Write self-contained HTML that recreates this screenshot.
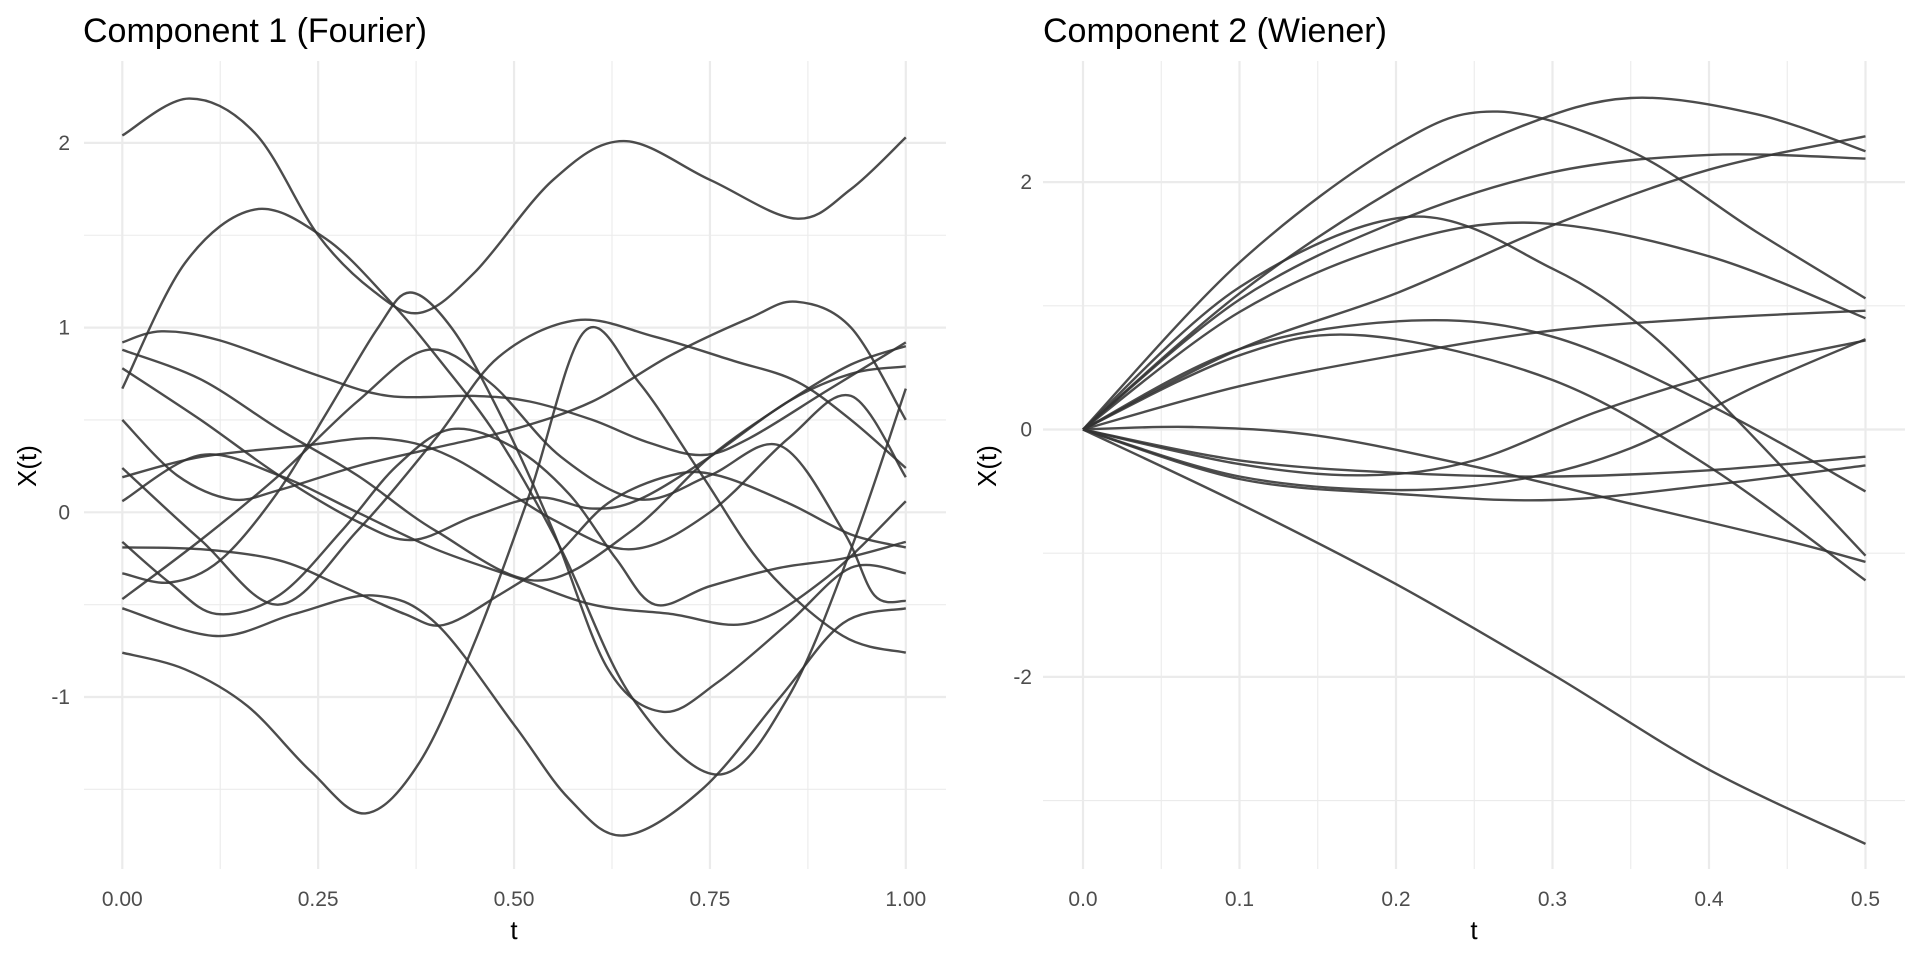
<!DOCTYPE html>
<html><head><meta charset="utf-8"><style>
html,body{margin:0;padding:0;background:#fff;}
svg{display:block;}
text{font-family:"Liberation Sans",sans-serif;}
</style></head><body>
<svg id="s" width="1920" height="960" viewBox="0 0 1920 960" xmlns="http://www.w3.org/2000/svg">
<rect width="1920" height="960" fill="#fff"/>
<g id="grid"></g>
<g id="lines" fill="none" stroke="#333" stroke-opacity="0.88" stroke-width="2.4"></g>
<g id="labels" fill="#4d4d4d" font-size="21"></g>
<text x="83" y="42" font-size="34" fill="#000">Component 1 (Fourier)</text>
<text x="1043" y="42" font-size="34" fill="#000">Component 2 (Wiener)</text>
<text x="514" y="939" font-size="26" fill="#000" text-anchor="middle">t</text>
<text x="1474" y="939" font-size="26" fill="#000" text-anchor="middle">t</text>
<text transform="translate(36,466) rotate(-90)" font-size="26" fill="#000" text-anchor="middle">X(t)</text>
<text transform="translate(996,466) rotate(-90)" font-size="26" fill="#000" text-anchor="middle">X(t)</text>
</svg>
<script>
var NS="http://www.w3.org/2000/svg";
function el(p,n,a,t){var e=document.createElementNS(NS,n);for(var k in a)e.setAttribute(k,a[k]);if(t!=null)e.textContent=t;document.getElementById(p).appendChild(e);}
var L={x0:122.3,xs:783.5,y0:512.3,ys:184.7,l:84,r:946,t:61,b:869};
var R={x0:1083,xs:1565,y0:429.5,ys:123.7,l:1043,r:1905,t:61,b:869};
function gx(P,v,w){var x=P.x0+P.xs*v;el("grid","line",{x1:x,x2:x,y1:P.t,y2:P.b,stroke:"#ebebeb","stroke-width":w});}
function gy(P,v,w){var y=P.y0-P.ys*v;el("grid","line",{x1:P.l,x2:P.r,y1:y,y2:y,stroke:"#ebebeb","stroke-width":w});}
[0.125,0.375,0.625,0.875].forEach(function(v){gx(L,v,1.1)});
[-1.5,-0.5,0.5,1.5].forEach(function(v){gy(L,v,1.1)});
[0,0.25,0.5,0.75,1].forEach(function(v){gx(L,v,2.2);el("labels","text",{x:L.x0+L.xs*v,y:906,"text-anchor":"middle"},v.toFixed(2))});
[-1,0,1,2].forEach(function(v){gy(L,v,2.2);el("labels","text",{x:70,y:L.y0-L.ys*v+7,"text-anchor":"end"},String(v))});
[0.05,0.15,0.25,0.35,0.45].forEach(function(v){gx(R,v,1.1)});
[-3,-1,1].forEach(function(v){gy(R,v,1.1)});
[0,0.1,0.2,0.3,0.4,0.5].forEach(function(v){gx(R,v,2.2);el("labels","text",{x:R.x0+R.xs*v,y:906,"text-anchor":"middle"},v.toFixed(1))});
[-2,0,2].forEach(function(v){gy(R,v,2.2);el("labels","text",{x:1032,y:R.y0-R.ys*v+7,"text-anchor":"end"},String(v))});
function path(P,pts){
 var p=pts.map(function(a){return [P.x0+P.xs*a[0],P.y0-P.ys*a[1]]});
 var d="M"+p[0][0].toFixed(1)+","+p[0][1].toFixed(1);
 for(var i=0;i<p.length-1;i++){
  var p0=p[i>0?i-1:i],p1=p[i],p2=p[i+1],p3=p[i+2<p.length?i+2:i+1];
  var c1=[p1[0]+(p2[0]-p0[0])/6,p1[1]+(p2[1]-p0[1])/6],c2=[p2[0]-(p3[0]-p1[0])/6,p2[1]-(p3[1]-p1[1])/6];
  d+="C"+c1[0].toFixed(1)+","+c1[1].toFixed(1)+" "+c2[0].toFixed(1)+","+c2[1].toFixed(1)+" "+p2[0].toFixed(1)+","+p2[1].toFixed(1);
 }
 el("lines","path",{d:d});
}
var left=[
[[0,2.04],[.085,2.24],[.17,2.05],[.25,1.5],[.32,1.2],[.38,1.08],[.45,1.3],[.55,1.8],[.64,2.01],[.75,1.8],[.86,1.59],[.93,1.75],[1,2.03]],
[[0,.67],[.08,1.35],[.17,1.64],[.26,1.48],[.34,1.15],[.4,.85],[.48,.4],[.56,-.2],[.65,-1.0],[.76,-1.42],[.85,-1.0],[.93,-.2],[1,.67]],
[[0,.92],[.05,.98],[.125,.93],[.25,.74],[.34,.63],[.45,.63],[.52,.6],[.6,.5],[.67,.38],[.74,.31],[.8,.4],[.9,.66],[1,.92]],
[[0,.88],[.1,.72],[.2,.45],[.3,.2],[.4,-.1],[.53,-.37],[.65,-.1],[.75,.3],[.85,.6],[.93,.8],[1,.9]],
[[0,.78],[.1,.5],[.2,.2],[.3,-.05],[.37,-.15],[.45,-.02],[.53,.08],[.6,.02],[.66,.07],[.75,.3],[.85,.6],[.93,.75],[1,.79]],
[[0,.5],[.07,.2],[.14,.07],[.2,.12],[.3,.25],[.4,.35],[.5,.45],[.6,.6],[.7,.85],[.8,1.05],[.86,1.14],[.93,1.0],[1,.5]],
[[0,.24],[.1,-.15],[.2,-.5],[.3,-.1],[.4,.4],[.48,.84],[.58,1.04],[.68,.95],[.78,.82],[.86,.71],[.93,.5],[1,.24]],
[[0,.19],[.1,.3],[.23,.36],[.33,.4],[.42,.3],[.55,-.04],[.65,-.2],[.75,.0],[.85,.4],[.93,.63],[1,.19]],
[[0,.06],[.1,.31],[.2,.2],[.3,.0],[.4,-.2],[.5,-.35],[.6,-.5],[.7,-.55],[.8,-.6],[.9,-.35],[1,.06]],
[[0,-.16],[.06,-.38],[.12,-.55],[.2,-.45],[.28,-.1],[.35,.25],[.42,.45],[.5,.35],[.57,.1],[.63,-.25],[.68,-.5],[.75,-.4],[.84,-.3],[.92,-.25],[1,-.16]],
[[0,-.19],[.1,-.2],[.2,-.26],[.28,-.4],[.36,-.55],[.41,-.61],[.48,-.45],[.55,-.25],[.62,.05],[.7,.2],[.76,.2],[.85,.05],[.93,-.12],[1,-.19]],
[[0,-.33],[.061,-.38],[.125,-.26],[.197,.1],[.261,.54],[.325,.99],[.367,1.19],[.42,1.0],[.48,.55],[.55,-.1],[.62,-.85],[.69,-1.08],[.76,-.92],[.85,-.6],[.93,-.3],[1,-.33]],
[[0,-.47],[.1,-.15],[.2,.2],[.3,.6],[.39,.88],[.47,.7],[.56,.3],[.66,.07],[.75,.2],[.84,.36],[.92,-.1],[.96,-.45],[1,-.48]],
[[0,-.52],[.12,-.67],[.22,-.55],[.32,-.45],[.4,-.6],[.5,-1.15],[.57,-1.55],[.64,-1.75],[.74,-1.5],[.84,-1.0],[.92,-.6],[1,-.52]],
[[0,-.76],[.08,-.85],[.16,-1.05],[.24,-1.4],[.31,-1.63],[.38,-1.35],[.45,-.7],[.52,.1],[.59,.98],[.66,.7],[.74,.2],[.82,-.3],[.92,-.67],[1,-.76]]
];
left.forEach(function(c){path(L,c)});
var right=[
[[0,0],[.1,1.35],[.2,2.3],[.265,2.57],[.35,2.25],[.43,1.6],[.5,1.06]],
[[0,0],[.1,1.1],[.2,1.95],[.28,2.45],[.35,2.68],[.43,2.55],[.5,2.25]],
[[0,0],[.1,1.05],[.2,1.68],[.3,2.08],[.4,2.22],[.5,2.19]],
[[0,0],[.1,.65],[.2,1.1],[.3,1.65],[.4,2.1],[.5,2.37]],
[[0,0],[.1,1.15],[.21,1.72],[.3,1.3],[.36,.8],[.42,.05],[.5,-1.02]],
[[0,0],[.1,.95],[.2,1.5],[.29,1.67],[.4,1.4],[.5,.9]],
[[0,0],[.1,.65],[.21,.88],[.3,.75],[.4,.2],[.5,-.5]],
[[0,0],[.1,.6],[.18,.76],[.3,.4],[.4,-.3],[.5,-1.22]],
[[0,0],[.1,.35],[.2,.6],[.3,.8],[.4,.9],[.5,.96]],
[[0,0],[.1,-.28],[.18,-.37],[.25,-.25],[.33,.15],[.42,.5],[.5,.72]],
[[0,0],[.1,-.38],[.2,-.49],[.28,-.4],[.35,-.15],[.43,.35],[.5,.73]],
[[0,0],[.1,-.4],[.2,-.52],[.3,-.57],[.4,-.45],[.5,-.29]],
[[0,0],[.07,.02],[.15,-.05],[.25,-.3],[.35,-.6],[.45,-.9],[.5,-1.07]],
[[0,0],[.1,-.25],[.2,-.35],[.3,-.38],[.4,-.33],[.5,-.22]],
[[0,0],[.1,-.6],[.2,-1.25],[.3,-1.98],[.4,-2.75],[.5,-3.35]]
];
right.forEach(function(c){path(R,c)});
</script>
</body></html>
